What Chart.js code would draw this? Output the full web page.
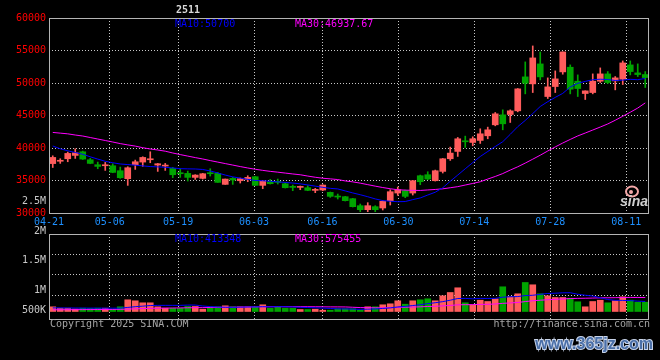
<!DOCTYPE html>
<html>
<head>
<meta charset="utf-8">
<script src="https://cdn.jsdelivr.net/npm/chart.js@4/dist/chart.umd.min.js"></script>
<style>
  html, body { margin: 0; padding: 0; background: #000; }
  #wrap { position: relative; width: 660px; height: 360px; }
  #wrap canvas { position: absolute; left: 0; top: 0; }
</style>
</head>
<body>
<div id="wrap">
  <canvas id="priceChart" width="660" height="360"></canvas>
  <canvas id="volChart" width="660" height="360"></canvas>
</div>
<script>
// trading days shown on the chart
const dates = [
  '04-21','04-22','04-23','04-24','04-25','04-28','04-29','04-30',
  '05-06','05-07','05-08','05-09','05-12','05-13','05-14','05-15','05-16',
  '05-19','05-20','05-21','05-22','05-23','05-26','05-27','05-28','05-29','05-30',
  '06-03','06-04','06-05','06-06','06-09','06-10','06-11','06-12','06-13',
  '06-16','06-17','06-18','06-19','06-20','06-23','06-24','06-25','06-26','06-27',
  '06-30','07-01','07-02','07-03','07-04','07-07','07-08','07-09','07-10','07-11',
  '07-14','07-15','07-16','07-17','07-18','07-21','07-22','07-23','07-24','07-25',
  '07-28','07-29','07-30','07-31','08-01','08-04','08-05','08-06','08-07','08-08',
  '08-11','08-12','08-13','08-14'
];
const tickDates = ['04-21','05-06','05-19','06-03','06-16','06-30','07-14','07-28','08-11'];

const open = [
  37600,37960,38346,38858,39421,38192,37424,37270,37270,36502,
  35274,37424,37834,38192,37373,37219,36861,36195,36093,35478,
  35325,36144,36093,34403,35325,34966,35171,35581,34250,34813,
  34864,34506,34045,33942,33891,33482,33533,33174,32611,32509,
  32202,31126,30512,30973,30768,31894,33072,33430,33072,35734,
  35888,34966,36400,38346,39472,41110,40854,41162,41878,43568,
  45104,45155,45718,50941,49866,52938,47920,49456,51709,52426,
  50275,48381,48534,50275,51402,50326,50582,52784,51555,51299
];
const close = [
  38550,38010,39165,39267,38294,37629,37168,37424,36246,35427,
  36963,37885,38550,38294,37578,37322,35888,36042,35478,35837,
  36042,36042,34710,35222,35069,35274,35478,34250,34915,34506,
  34710,33891,33942,34045,33482,33584,34301,32560,32458,31894,
  30973,30512,31126,30512,31792,33277,33584,32560,34966,34813,
  35222,36502,38346,39216,41418,40957,41418,42186,42800,45258,
  43722,45718,49098,49968,53859,50941,49405,50634,54781,49046,
  49149,48790,50275,51402,50070,50787,53091,51760,51299,50838
];
const high = [
  38800,38350,39370,39882,39523,38397,37834,37782,37578,37066,
  37117,38141,38653,39421,37629,37629,37014,36810,36451,35888,
  36093,36810,36246,35222,35478,35376,35734,35632,34966,35171,
  35222,34608,34301,34147,34198,33789,34352,33226,32918,32560,
  32253,31382,31587,31126,31894,33584,33994,33533,35018,35837,
  36349,36605,38400,40138,41622,41827,41725,42954,43210,45462,
  45872,45872,49149,53245,55702,54781,50787,51862,54781,52784,
  51248,48790,51402,52323,51760,50992,53398,53398,52938,51760
];
const low = [
  37000,37630,37885,38397,38243,37578,36810,36554,36195,35325,
  34250,36707,37168,37731,36400,36554,35427,35478,34915,35171,
  35222,35683,34710,34403,34403,34608,34813,34250,33738,34454,
  34454,33840,33430,33584,33430,33123,33430,32406,32150,31843,
  30922,30205,30205,30205,30461,31229,32714,32355,32765,34352,
  35120,34915,36150,38090,38704,40086,40342,40701,41418,43414,
  42800,43926,45565,48330,48534,50480,47613,48534,51350,48330,
  47920,47459,48330,50070,49917,48944,49763,51248,50992,49302
];
const ma10 = [
  40306,39876,39570,39308,39032,38648,38294,37957,37726,37542,
  37450,37358,37250,37142,37096,37035,36927,36820,36789,36774,
  36697,36467,36159,35837,35560,35376,35176,35007,34961,34884,
  34792,34700,34608,34485,34316,34132,33948,33794,33702,33395,
  33087,32811,32504,32166,31905,31812,31736,31766,32058,32319,
  32765,33195,33886,34884,35837,36804,37757,38694,39462,40230,
  40967,42104,43286,44239,45299,46389,47127,47787,48401,49384,
  49953,50244,50505,50582,50536,50383,50444,50567,50505,50700
];
const ma30 = [
  42396,42288,42180,41996,41843,41612,41382,41151,40921,40675,
  40476,40291,40045,39846,39692,39508,39231,38986,38755,38525,
  38310,38064,37834,37603,37373,37142,36927,36728,36559,36405,
  36282,36144,36006,35883,35683,35499,35345,35253,35146,34931,
  34792,34593,34362,34132,33917,33732,33579,33517,33487,33471,
  33548,33625,33717,33886,34055,34301,34547,34808,35222,35622,
  36067,36605,37112,37680,38279,38893,39539,40168,40767,41320,
  41858,42303,42764,43225,43701,44270,44884,45500,46150,46938
];
const volume = [
  194000,136000,136000,103000,136000,124000,136000,136000,95000,194000,
  483000,442000,359000,359000,194000,136000,136000,136000,207000,207000,
  95000,194000,194000,235000,194000,194000,194000,194000,277000,136000,
  194000,136000,136000,83000,83000,95000,54000,54000,112000,112000,
  112000,54000,194000,194000,277000,318000,442000,301000,442000,483000,
  525000,442000,648000,785000,979000,359000,277000,467000,413000,525000,
  1020000,607000,731000,1198000,1103000,731000,648000,578000,578000,549000,
  401000,194000,413000,467000,359000,442000,607000,467000,384000,384000
];
const volMa10 = [
  150000,148000,146000,143000,141000,140000,139000,138000,137000,139000,
  168000,199000,221000,246000,252000,253000,253000,253000,265000,266000,
  227000,202000,186000,173000,173000,179000,185000,191000,198000,191000,
  201000,195000,189000,174000,163000,153000,139000,125000,108000,106000,
  98000,90000,95000,106000,126000,148000,187000,212000,245000,282000,
  323000,362000,407000,466000,537000,541000,524000,541000,538000,542000,
  592000,608000,616000,658000,670000,707000,744000,755000,772000,774000,
  712000,671000,639000,566000,492000,463000,459000,448000,428000,413348
];
const volMa30 = [
  70000,72000,74000,76000,78000,80000,82000,84000,86000,90000,
  100000,110000,120000,130000,135000,140000,144000,148000,153000,158000,
  161000,165000,169000,173000,177000,181000,186000,190000,195000,199000,
  199000,199000,199000,198000,196000,195000,192000,190000,190000,188000,
  175000,162000,157000,151000,154000,160000,170000,176000,184000,193000,
  207000,215000,231000,249000,275000,281000,283000,292000,297000,310000,
  337000,353000,373000,410000,444000,465000,485000,503000,518000,533000,
  542000,547000,554000,563000,566000,570000,576000,581000,579000,575455
];
const volTickLabels = ['2.5M', '2M', '1.5M', '1M', '500K'];
const contract = '2511';
const priceLegend = ['MA10:50700', 'MA30:46937.67'];
const volLegend = ['MA10:413348', 'MA30:575455'];

// ---- styles / layout ----
const MONO = "'DejaVu Sans Mono', 'Liberation Mono', monospace";
Chart.defaults.font.family = MONO;
Chart.defaults.font.size = 10;
Chart.defaults.animation = false;

const upColor = '#ff5c5c';
const downColor = '#00a400';
const gridColor = '#c8c8c8';
const frameColor = '#b4b4b4';
const dotted = [1, 2];
const candleColors = close.map((c, i) => c >= open[i] ? upColor : downColor);
const tickIdx = tickDates.map(d => dates.indexOf(d));
const volLabelY = [201, 231, 260.5, 290, 310];

function dateAxis(showLabels) {
  return {
    type: 'linear', axis: 'x', position: 'bottom',
    min: 0, max: dates.length - 1,
    afterBuildTicks: s => { s.ticks = tickIdx.map(v => ({ value: v })); },
    afterFit: s => { s.height = showLabels ? 20 : 0; },
    grid: { color: gridColor, drawTicks: false },
    border: { display: false, dash: dotted },
    ticks: {
      display: showLabels, color: '#1e90ff', padding: 3,
      autoSkip: false, maxRotation: 0,
      callback: v => dates[v]
    }
  };
}

const framePlugin = {
  id: 'frame',
  afterDraw(chart) {
    const { ctx, chartArea: a } = chart;
    ctx.save();
    ctx.strokeStyle = frameColor;
    ctx.lineWidth = 1;
    ctx.strokeRect(Math.round(a.left) + 0.5, Math.round(a.top) + 0.5,
      Math.round(a.right - a.left) - 1, Math.round(a.bottom - a.top));
    ctx.restore();
  }
};

const priceText = {
  id: 'priceText',
  afterDraw(chart) {
    const ctx = chart.ctx;
    ctx.save();
    ctx.textBaseline = 'middle';
    ctx.font = 'bold 10px ' + MONO;
    ctx.fillStyle = '#d8d8d8';
    ctx.textAlign = 'center';
    ctx.fillText(contract, 188, 10);
    ctx.font = '10px ' + MONO;
    ctx.textAlign = 'left';
    ctx.fillStyle = '#0000ff';
    ctx.fillText(priceLegend[0], 175, 24);
    ctx.fillStyle = '#ff00ff';
    ctx.fillText(priceLegend[1], 295, 24);
    // sina logo
    ctx.strokeStyle = '#f4a8a8';
    ctx.lineWidth = 2;
    ctx.beginPath();
    ctx.ellipse(632, 191.5, 6, 5, 0, 0, Math.PI * 2);
    ctx.stroke();
    ctx.fillStyle = '#f4a8a8';
    ctx.beginPath();
    ctx.arc(631, 192, 2, 0, Math.PI * 2);
    ctx.fill();
    ctx.font = 'italic bold 14px "Liberation Sans", Arial, sans-serif';
    ctx.fillStyle = '#cfcfcf';
    ctx.textAlign = 'center';
    ctx.fillText('sina', 634, 202);
    ctx.restore();
  }
};

const volText = {
  id: 'volText',
  afterDraw(chart) {
    const ctx = chart.ctx;
    ctx.save();
    ctx.textBaseline = 'middle';
    ctx.font = '10px ' + MONO;
    ctx.fillStyle = '#c8c8c8';
    ctx.textAlign = 'right';
    volTickLabels.forEach((t, i) => ctx.fillText(t, 46, volLabelY[i]));
    ctx.textAlign = 'left';
    ctx.fillStyle = '#0000ff';
    ctx.fillText(volLegend[0], 175, 239);
    ctx.fillStyle = '#ff00ff';
    ctx.fillText(volLegend[1], 295, 239);
    ctx.fillStyle = '#a4a4a4';
    ctx.fillText('Copyright 2025 SINA.COM', 50, 324);
    ctx.textAlign = 'right';
    ctx.fillText('http://finance.sina.com.cn', 650, 324);
    // watermark
    ctx.font = 'bold 16px "Liberation Sans", Arial, sans-serif';
    ctx.lineWidth = 2;
    ctx.strokeStyle = '#c8d4ea';
    ctx.strokeText('www.365jz.com', 653, 345);
    ctx.fillStyle = '#4a6fa8';
    ctx.fillText('www.365jz.com', 653, 345);
    ctx.restore();
  }
};

// ---- price (candles + MA) ----
new Chart(document.getElementById('priceChart'), {
  data: {
    labels: dates,
    datasets: [
      { type: 'line', data: ma10, borderColor: '#0000ff', borderWidth: 1, pointRadius: 0,
        xAxisID: 'x', yAxisID: 'y', order: 0 },
      { type: 'line', data: ma30, borderColor: '#ff00ff', borderWidth: 1, pointRadius: 0,
        xAxisID: 'x', yAxisID: 'y', order: 0 },
      { type: 'bar', data: open.map((o, i) => [o, close[i]]), backgroundColor: candleColors,
        barThickness: 6, minBarLength: 1, grouped: false, xAxisID: 'x', yAxisID: 'y', order: 1 },
      { type: 'bar', data: low.map((l, i) => [l, high[i]]), backgroundColor: candleColors,
        barThickness: 1, grouped: false, xAxisID: 'x', yAxisID: 'y', order: 2 }
    ]
  },
  options: {
    responsive: false,
    layout: { padding: { top: 18, right: 11, bottom: 127, left: 0 } },
    plugins: { legend: { display: false }, tooltip: { enabled: false } },
    scales: {
      x: { type: 'category', display: false, offset: true },
      xg: dateAxis(true),
      y: {
        min: 30000, max: 60000,
        afterFit: s => { s.width = 49; },
        ticks: { stepSize: 5000, color: '#ff0000', padding: 3, callback: v => String(v) },
        grid: { color: gridColor, drawTicks: false },
        border: { display: false, dash: dotted }
      }
    }
  },
  plugins: [framePlugin, priceText]
});

// ---- volume ----
new Chart(document.getElementById('volChart'), {
  data: {
    labels: dates,
    datasets: [
      { type: 'line', data: volMa10, borderColor: '#0000ff', borderWidth: 1, pointRadius: 0,
        xAxisID: 'x', yAxisID: 'y', order: 0 },
      { type: 'line', data: volMa30, borderColor: '#ff00ff', borderWidth: 1, pointRadius: 0,
        xAxisID: 'x', yAxisID: 'y', order: 0 },
      { type: 'bar', data: volume, backgroundColor: candleColors, barThickness: 6,
        grouped: false, xAxisID: 'x', yAxisID: 'y', order: 1 }
    ]
  },
  options: {
    responsive: false,
    layout: { padding: { top: 234, right: 11, bottom: 41, left: 0 } },
    plugins: { legend: { display: false }, tooltip: { enabled: false } },
    scales: {
      x: { type: 'category', display: false, offset: true },
      xg: dateAxis(false),
      y: {
        min: -310000, max: 3200000,
        afterFit: s => { s.width = 49; },
        afterBuildTicks: s => {
          const step = (s.max - s.min) * 0.24;
          s.ticks = [1, 2, 3].map(k => ({ value: s.max - k * step }));
        },
        ticks: { display: false },
        grid: { color: gridColor, drawTicks: false },
        border: { display: false, dash: dotted }
      }
    }
  },
  plugins: [framePlugin, volText]
});
</script>
</body>
</html>
